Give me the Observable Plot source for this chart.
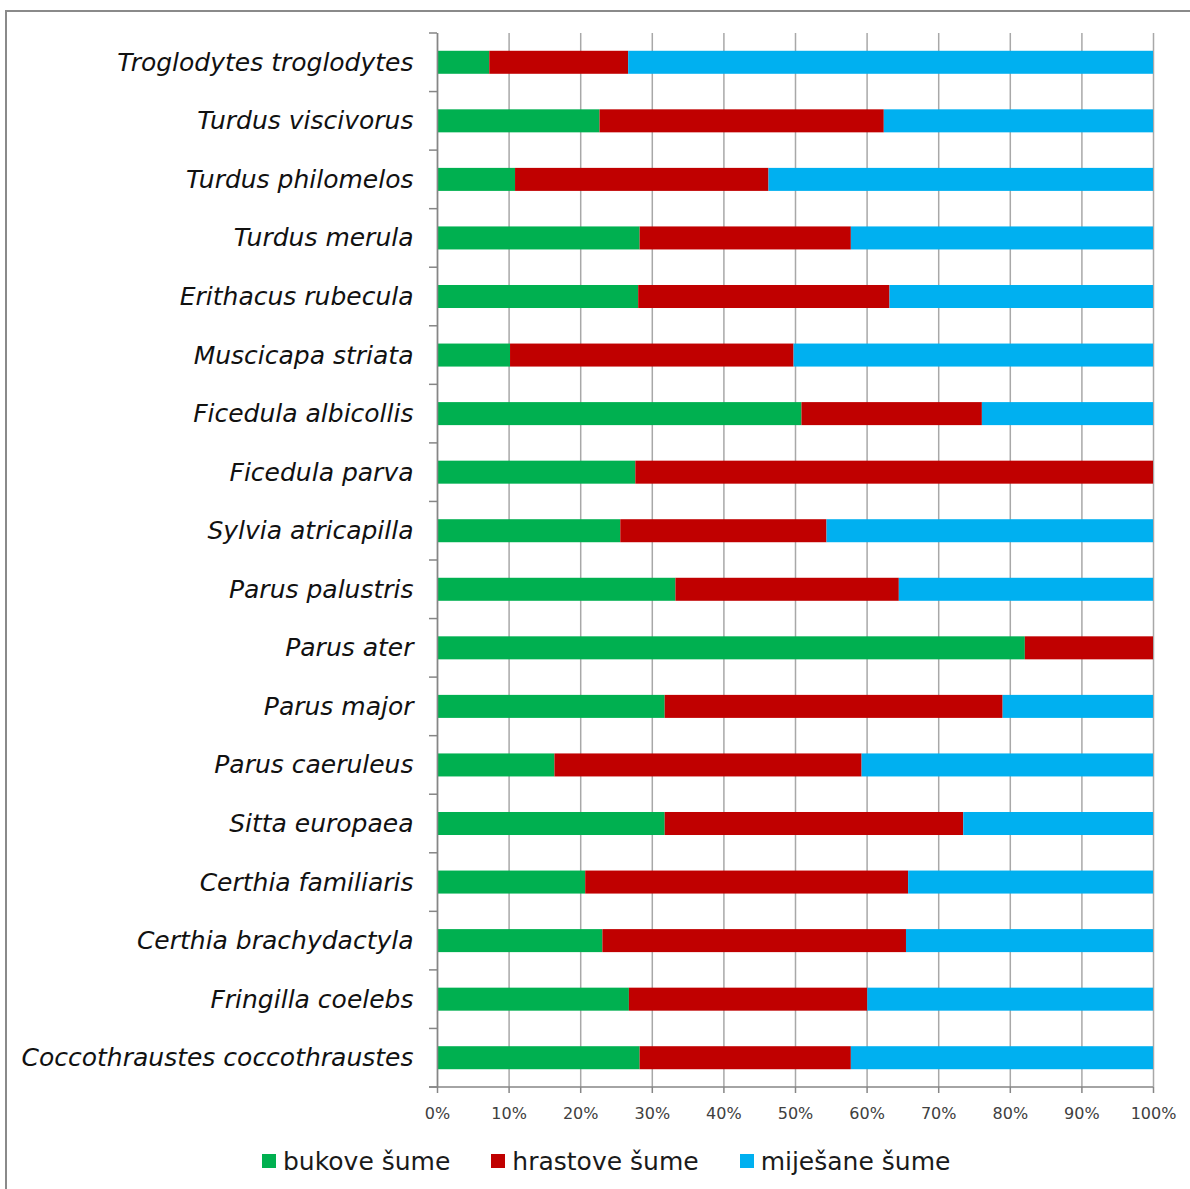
<!DOCTYPE html>
<html><head><meta charset="utf-8">
<script src="https://cdn.jsdelivr.net/npm/d3@7"></script>
<script src="https://cdn.jsdelivr.net/npm/@observablehq/plot@0.6"></script>
<style>
html,body{margin:0;padding:0;background:#fff;overflow:hidden;width:1190px;height:1189px;}
#frame{position:absolute;left:5px;top:10px;width:1210px;height:1210px;border:2px solid #8a8a8a;box-sizing:border-box;}
#chart{position:absolute;left:0;top:0;}
#legend{position:absolute;left:262px;top:1147px;display:flex;align-items:center;height:28px;font-family:"DejaVu Sans",sans-serif;font-size:25px;color:#1a1a1a;white-space:nowrap;}
.item{display:flex;align-items:center;margin-right:41px}
.sw{width:14px;height:14px;margin-right:7px}
</style></head><body>
<div id="frame"></div>
<div id="chart"></div>
<div id="legend"></div>
<script>
const species = [
  "Troglodytes troglodytes", "Turdus viscivorus", "Turdus philomelos", "Turdus merula",
  "Erithacus rubecula", "Muscicapa striata", "Ficedula albicollis", "Ficedula parva",
  "Sylvia atricapilla", "Parus palustris", "Parus ater", "Parus major",
  "Parus caeruleus", "Sitta europaea", "Certhia familiaris", "Certhia brachydactyla",
  "Fringilla coelebs", "Coccothraustes coccothraustes"
];
const forests = ["bukove šume", "hrastove šume", "miješane šume"];
const colors = ["#00B050", "#C00000", "#00B0F0"];
const bukove   = [7.3, 22.7, 10.9, 28.3, 28.1, 10.2, 50.9, 27.7, 25.6, 33.3, 82.1, 31.8, 16.4, 31.8, 20.7, 23.1, 26.8, 28.3];
const hrastove = [19.4, 39.7, 35.4, 29.5, 35.1, 39.6, 25.2, 72.3, 28.8, 31.2, 17.9, 47.2, 42.9, 41.7, 45.1, 42.4, 33.3, 29.5];
const mijesane = [73.3, 37.6, 53.7, 42.2, 36.8, 50.2, 23.9, 0, 45.6, 35.5, 0, 21.0, 40.7, 26.5, 34.2, 34.5, 39.9, 42.2];
const xTicks = [0, 10, 20, 30, 40, 50, 60, 70, 80, 90, 100];

const series = [bukove, hrastove, mijesane];
const rows = [];
species.forEach((s, i) => {
  forests.forEach((f, j) => rows.push({species: s, forest: f, value: series[j][i]}));
});

const axisColor = "#868686";

// category boundary ticks on the y axis + bottom axis line
function boundaryTicks(index, scales, values, dimensions) {
  const g = d3.create("svg:g");
  const top = dimensions.marginTop;
  const bottom = dimensions.height - dimensions.marginBottom;
  const left = dimensions.marginLeft;
  const right = dimensions.width - dimensions.marginRight;
  const step = (bottom - top) / species.length;
  const bounds = d3.range(species.length + 1).map(i => top + i * step);
  g.selectAll("line").data(bounds).join("line")
    .attr("x1", left - 8).attr("x2", left)
    .attr("y1", d => d).attr("y2", d => d)
    .attr("stroke", axisColor).attr("stroke-width", 1.5);
  g.append("line")
    .attr("x1", left - 8).attr("x2", right)
    .attr("y1", bottom).attr("y2", bottom)
    .attr("stroke", axisColor).attr("stroke-width", 1.5);
  return g.node();
}

const chart = Plot.plot({
  width: 1190,
  height: 1135,
  marginLeft: 437,
  marginRight: 37,
  marginTop: 33,
  marginBottom: 48,
  x: {domain: [0, 100], label: null},
  y: {domain: species, paddingInner: 0.607, paddingOuter: 0.3035, round: false, label: null},
  color: {domain: forests, range: colors},
  style: {background: "transparent", overflow: "hidden"},
  marks: [
    Plot.gridX(xTicks, {stroke: "#a8a8a8", strokeOpacity: 1, strokeWidth: 1.5}),
    Plot.barX(rows, Plot.stackX({y: "species", x: "value", fill: "forest", order: forests})),
    Plot.ruleX([0], {stroke: axisColor, strokeWidth: 1.5}),
    boundaryTicks,
    Plot.axisY({tickSize: 0, tickPadding: 24, fontSize: 25, fontStyle: "italic",
      fontFamily: "DejaVu Sans, sans-serif", fill: "#111", label: null}),
    Plot.axisX(xTicks, {tickSize: 6, tickPadding: 14, tickFormat: d => d + "%",
      stroke: axisColor, strokeWidth: 1.5, fill: "#404040", fontSize: 16,
      fontFamily: "DejaVu Sans, sans-serif", label: null})
  ]
});
document.getElementById("chart").appendChild(chart);

const legend = document.getElementById("legend");
forests.forEach((f, i) => {
  const it = document.createElement("div");
  it.className = "item";
  const sw = document.createElement("div");
  sw.className = "sw";
  sw.style.background = colors[i];
  const t = document.createElement("span");
  t.textContent = f;
  it.appendChild(sw); it.appendChild(t);
  legend.appendChild(it);
});
</script>
</body></html>
